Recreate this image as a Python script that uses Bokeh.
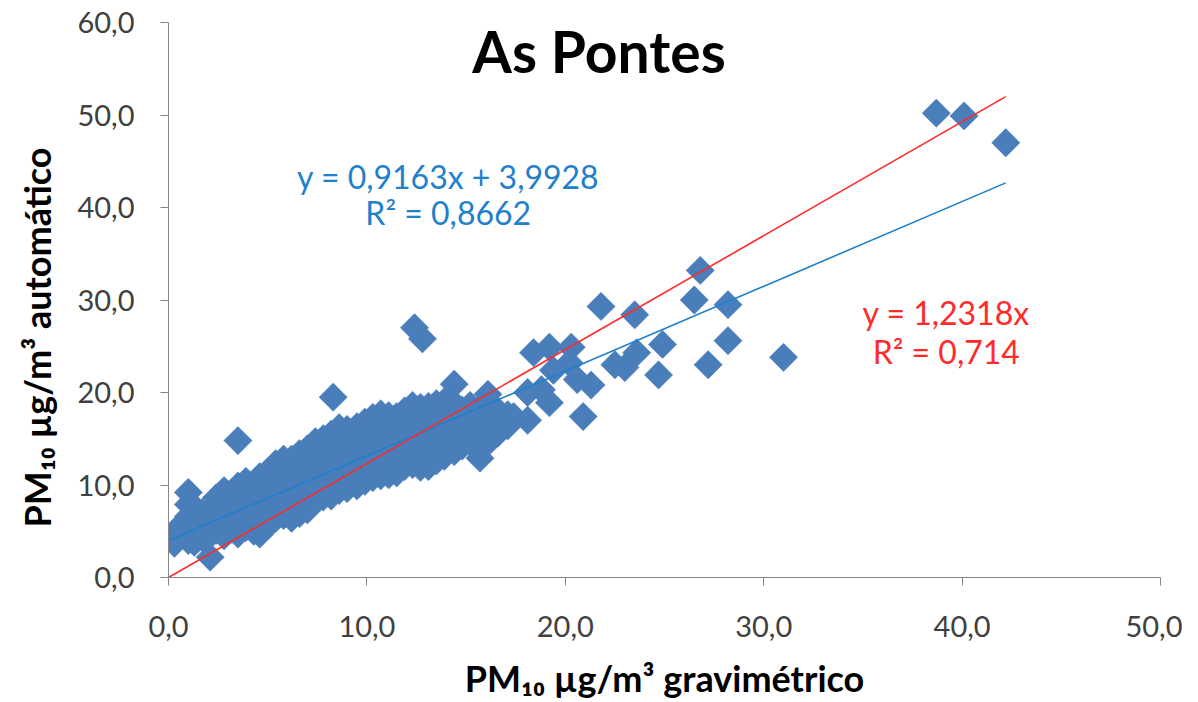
import math
from bokeh.plotting import figure
from bokeh.models import Range1d, FixedTicker, Label, Title
from bokeh.embed import file_html
from bokeh.resources import INLINE

title_text = "As Pontes"
x_title = "PM₁₀ µg/m³ gravimétrico"
y_title = "PM₁₀ µg/m³ automático"
x_ticks = [0, 10, 20, 30, 40, 50]
x_tick_labels = ["0,0", "10,0", "20,0", "30,0", "40,0", "50,0"]
y_ticks = [0, 10, 20, 30, 40, 50, 60]
y_tick_labels = ["0,0", "10,0", "20,0", "30,0", "40,0", "50,0", "60,0"]

# gravimetric PM10 (x) and automatic PM10 (y)
grav = [0.0, 0.3,
        0.6, 0.6,
        1.0, 1.0, 1.0, 1.0, 1.0,
        1.3, 1.3, 1.3, 1.3,
        1.7, 1.7, 1.7,
        2.1, 2.1, 2.1, 2.1,
        2.4, 2.4, 2.4, 2.4,
        2.8, 2.8, 2.8, 2.8, 2.8,
        3.2, 3.2, 3.2, 3.2,
        3.5, 3.5, 3.5, 3.5, 3.5, 3.5,
        3.9, 3.9, 3.9, 3.9, 3.9,
        4.3, 4.3, 4.3, 4.3, 4.3,
        4.6, 4.6, 4.6, 4.6, 4.6, 4.6,
        5.0, 5.0, 5.0, 5.0, 5.0, 5.0,
        5.4, 5.4, 5.4, 5.4, 5.4, 5.4,
        5.8, 5.8, 5.8, 5.8, 5.8, 5.8,
        6.2, 6.2, 6.2, 6.2, 6.2, 6.2,
        6.6, 6.6, 6.6, 6.6, 6.6, 6.6,
        7.0, 7.0, 7.0, 7.0, 7.0, 7.0,
        7.4, 7.4, 7.4, 7.4, 7.4, 7.4,
        7.8, 7.8, 7.8, 7.8, 7.8, 7.8,
        8.2, 8.2, 8.2, 8.2, 8.2, 8.2,
        8.3,
        8.6, 8.6, 8.6, 8.6, 8.6, 8.6,
        9.0, 9.0, 9.0, 9.0, 9.0, 9.0,
        9.5, 9.5, 9.5, 9.5, 9.5, 9.5,
        9.9, 9.9, 9.9, 9.9, 9.9, 9.9,
        10.3, 10.3, 10.3, 10.3, 10.3, 10.3,
        10.7, 10.7, 10.7, 10.7, 10.7, 10.7,
        11.1, 11.1, 11.1, 11.1, 11.1, 11.1,
        11.5, 11.5, 11.5, 11.5, 11.5, 11.5,
        11.9, 11.9, 11.9, 11.9, 11.9, 11.9,
        12.3, 12.3, 12.3, 12.3, 12.3, 12.3,
        12.4, 12.8,
        12.7, 12.7, 12.7, 12.7, 12.7, 12.7,
        13.1, 13.1, 13.1, 13.1, 13.1, 13.1,
        13.5, 13.5, 13.5, 13.5, 13.5, 13.5,
        13.9, 13.9, 13.9, 13.9, 13.9, 13.9,
        14.4, 14.4, 14.4, 14.4, 14.4, 14.4,
        14.8, 14.8, 14.8, 14.8,
        15.2, 15.2, 15.2, 15.2,
        15.7, 15.7, 15.7, 15.7, 15.7,
        16.1, 16.1, 16.1, 16.1, 16.1,
        16.6, 16.6, 16.6,
        17.1, 17.1,
        17.4,
        18.1, 18.1,
        18.4, 18.8, 19.2, 19.2, 19.4, 20.2, 20.3, 20.6, 20.9, 21.3,
        21.8, 22.5, 23.0, 23.5, 23.6, 24.7, 24.9,
        26.5, 26.8, 27.2, 28.2, 28.2, 31.0,
        38.7, 40.1, 42.2]
auto = [4.4, 3.7,
        4.5, 5.6,
        4.0, 5.3, 6.6, 7.9, 9.2,
        3.8, 5.0, 6.4, 7.6,
        4.3, 5.8, 7.0,
        2.2, 4.6, 5.9, 7.3,
        5.1, 6.4, 7.8, 8.6,
        4.5, 5.7, 7.1, 8.4, 9.4,
        5.2, 6.5, 7.7, 9.0,
        4.7, 6.0, 7.3, 8.6, 9.9, 14.8,
        5.4, 6.7, 8.0, 9.3, 10.4,
        5.0, 6.3, 7.6, 8.9, 10.1,
        4.7, 6.0, 7.2, 8.5, 9.8, 10.9,
        5.6, 6.9, 8.2, 9.5, 10.8, 11.4,
        6.4, 7.7, 9.0, 10.3, 11.6, 12.3,
        6.7, 8.0, 9.3, 10.6, 11.9, 12.8,
        6.4, 7.6, 8.9, 10.2, 11.5, 12.8,
        6.9, 8.3, 9.6, 10.9, 12.2, 13.4,
        7.3, 8.6, 9.9, 11.2, 12.5, 13.9,
        8.3, 9.5, 10.8, 12.1, 13.4, 14.7,
        8.7, 10.0, 11.3, 12.6, 13.9, 15.0,
        8.8, 10.2, 11.5, 12.8, 14.1, 15.5,
        19.5,
        9.4, 10.6, 11.9, 13.2, 14.6, 16.2,
        9.6, 10.9, 12.2, 13.5, 14.8, 16.0,
        9.9, 11.2, 12.5, 13.8, 15.1, 16.3,
        10.4, 11.7, 13.0, 14.3, 15.6, 16.8,
        10.8, 12.1, 13.4, 14.7, 16.0, 17.3,
        11.0, 12.3, 13.6, 14.9, 16.2, 17.7,
        11.1, 12.5, 13.8, 15.1, 16.4, 17.5,
        11.3, 12.6, 13.9, 15.3, 16.6, 17.4,
        12.0, 13.3, 14.6, 15.9, 17.2, 18.0,
        12.2, 13.5, 14.8, 16.1, 17.4, 18.6,
        27.0, 25.8,
        11.9, 13.2, 14.5, 15.8, 17.1, 18.4,
        12.0, 13.3, 14.6, 15.9, 17.2, 18.5,
        12.6, 13.9, 15.2, 16.5, 17.8, 18.8,
        13.1, 14.4, 15.7, 17.0, 18.3, 19.0,
        13.6, 14.9, 16.2, 17.5, 18.8, 20.9,
        14.2, 15.5, 16.8, 18.1,
        14.6, 15.9, 17.2, 18.6,
        12.9, 14.2, 15.5, 16.8, 18.3,
        14.6, 15.9, 17.2, 18.5, 19.8,
        15.6, 16.9, 18.0,
        16.4, 17.6,
        17.4,
        17.0, 20.0,
        24.3, 20.3, 24.9, 18.9, 22.4, 23.2, 24.9, 21.4, 17.4, 20.8,
        29.3, 23.0, 22.7, 28.4, 24.3, 21.9, 25.2,
        30.0, 33.2, 23.0, 29.5, 25.6, 23.8,
        50.2, 49.9, 47.0]

# trend lines (coefficients as printed on the chart)
blue_slope, blue_intercept = 0.9163, 3.9928
red_slope = 1.2318
blue_eq = ["y = 0,9163x + 3,9928", "R² = 0,8662"]
red_eq = ["y = 1,2318x", "R² = 0,714"]

FONT = "Lato"
MARKER = "#4A7EBB"
BLUE = "#1F80CC"
RED = "#FF2A2A"
AXIS = "#868686"

p = figure(width=1182, height=702, output_backend="svg", toolbar_location=None,
           x_range=Range1d(0, 50), y_range=Range1d(0, 60),
           min_border_left=168, min_border_right=22, min_border_top=22, min_border_bottom=124)
p.outline_line_color = None
p.xgrid.visible = False
p.ygrid.visible = False
p.background_fill_color = "white"

for ax, ticks, labels in ((p.xaxis[0], x_ticks, x_tick_labels), (p.yaxis[0], y_ticks, y_tick_labels)):
    ax.ticker = FixedTicker(ticks=ticks)
    ax.major_label_overrides = {t: l for t, l in zip(ticks, labels)}
    ax.axis_line_color = AXIS
    ax.major_tick_line_color = AXIS
    ax.minor_tick_line_color = None
    ax.major_tick_in = 0
    ax.major_tick_out = 8
    ax.major_label_text_font = FONT
    ax.major_label_text_font_size = "29px"
    ax.major_label_text_color = "#404040"
p.xaxis.major_label_standoff = 30
p.yaxis.major_label_standoff = 26

# x-axis title
p.xaxis.axis_label = x_title
p.xaxis.axis_label_text_font = FONT
p.xaxis.axis_label_text_font_size = "36px"
p.xaxis.axis_label_text_font_style = "bold"
p.xaxis.axis_label_text_color = "black"
p.xaxis.axis_label_standoff = 16

# y-axis title, as an outer left title shifted along the axis
p.add_layout(Title(text=y_title, align="left", offset=50, standoff=28, vertical_align="top",
                   text_font=FONT, text_font_size="36px", text_font_style="bold",
                   text_color="black"), "left")

p.scatter(grav, auto, marker="square", size=20, angle=math.pi / 4,
          fill_color=MARKER, line_color=MARKER, line_width=0.5)

xmax = max(grav)
p.line([0, xmax], [blue_intercept, blue_slope * xmax + blue_intercept], line_color=BLUE, line_width=1.6)
p.line([0, xmax], [0, red_slope * xmax], line_color=RED, line_width=1.6)

def add_text(txt, x, y, size, color, bold=False):
    p.add_layout(Label(x=x, y=y, text=txt, text_font=FONT, text_font_size=size,
                       text_color=color, text_align="center", text_baseline="middle",
                       text_font_style="bold" if bold else "normal"))

add_text(title_text, 21.7, 56.9, "57px", "black", bold=True)
add_text(blue_eq[0], 14.1, 43.4, "32px", BLUE)
add_text(blue_eq[1], 14.1, 39.5, "32px", BLUE)
add_text(red_eq[0], 39.2, 28.7, "32px", RED)
add_text(red_eq[1], 39.2, 24.4, "32px", RED)

open("out.html", "w").write(file_html(p, INLINE))
